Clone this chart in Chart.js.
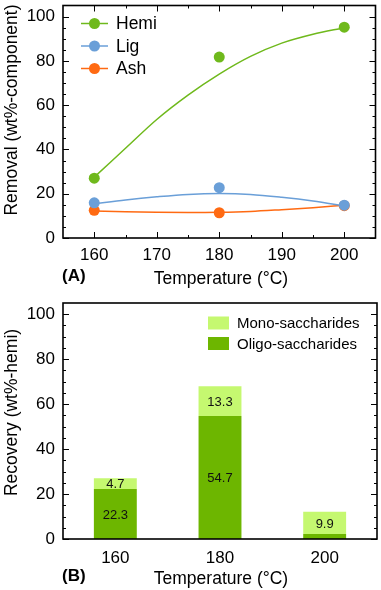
<!DOCTYPE html>
<html>
<head>
<meta charset="utf-8">
<script src="https://cdn.jsdelivr.net/npm/chart.js@4.4.1/dist/chart.umd.min.js"></script>
<style>
  html, body { margin: 0; padding: 0; background: #fff; }
  .panel { position: absolute; left: 0; width: 381px; }
  #panel-a { top: 0; height: 290px; }
  #panel-b { top: 290px; height: 300px; }
</style>
</head>
<body>
<div class="panel" id="panel-a"><canvas id="chart-a"></canvas></div>
<div class="panel" id="panel-b"><canvas id="chart-b"></canvas></div>
<script>
const FONT = '"Liberation Sans", Arial, sans-serif';
const GREEN = '#6fb91c';
const BLUE = '#6a9fd8';
const ORANGE = '#ff6a12';
const LIGHT_GREEN = '#c5f870';
const DARK_GREEN = '#6db600';

// (A) removal of each component
const temps = [160, 180, 200];
const hemiRemoval = [27.0, 81.7, 95.2];
const ligRemoval = [15.9, 22.7, 14.8];
const ashRemoval = [12.5, 11.4, 14.6];
// trend lines, every 5 °C
const fitTemps = [160, 165, 170, 175, 180, 185, 190, 195, 200];
const hemiFit = [27.5, 40.5, 53.5, 64.5, 74.0, 82.0, 88.0, 92.0, 95.0];
const ligFit = [15.5, 17.2, 18.6, 19.7, 20.1, 19.7, 18.4, 16.7, 14.5];
const ashFit = [12.2, 11.8, 11.6, 11.5, 11.6, 12.0, 12.8, 13.7, 14.8];
const xTicksA = [160, 170, 180, 190, 200];
const xMinorA = [165, 175, 185, 195];
const yTicks = [0, 20, 40, 60, 80, 100];
const yMinor = [5, 10, 15, 25, 30, 35, 45, 50, 55, 65, 70, 75, 85, 90, 95];

// (B) recovery of hemicellulose sugars
const categories = ['160', '180', '200'];
const oligo = [22.3, 54.7, 2.2];
const mono = [4.7, 13.3, 9.9];
const oligoLabels = ['22.3', '54.7', ''];
const monoLabels = ['4.7', '13.3', '9.9'];

const pts = (xs, ys) => xs.map((x, i) => ({ x, y: ys[i] }));

function tickFont(size) {
  return { family: FONT, size };
}

// frame + inward tick marks on every side
function frameTicks(id, cfg) {
  return {
    id,
    afterDatasetsDraw(chart) {
      const { ctx, chartArea: a, scales } = chart;
      ctx.save();
      ctx.strokeStyle = '#000';
      ctx.lineWidth = 1;
      ctx.beginPath();
      const yTick = (v, len) => {
        const y = Math.round(scales.y.getPixelForValue(v)) + 0.5;
        ctx.moveTo(a.left, y); ctx.lineTo(a.left + len, y);
        ctx.moveTo(a.right, y); ctx.lineTo(a.right - len, y);
      };
      yTicks.forEach(v => yTick(v, 6));
      yMinor.forEach(v => yTick(v, 3));
      if (cfg.xMajor) {
        const xTick = (v, len) => {
          const x = Math.round(scales.x.getPixelForValue(v)) + 0.5;
          ctx.moveTo(x, a.bottom); ctx.lineTo(x, a.bottom - len);
          ctx.moveTo(x, a.top); ctx.lineTo(x, a.top + len);
        };
        cfg.xMajor.forEach(v => xTick(v, 6));
        cfg.xMinor.forEach(v => xTick(v, 3));
      }
      ctx.stroke();
      ctx.lineWidth = 1.6;
      ctx.strokeRect(a.left, a.top, a.right - a.left, a.bottom - a.top);
      ctx.restore();
    }
  };
}

function titles(id, cfg) {
  return {
    id,
    afterDraw(chart) {
      const { ctx } = chart;
      ctx.save();
      ctx.fillStyle = '#000';
      ctx.font = `17.5px ${FONT}`;
      ctx.textAlign = 'center';
      ctx.textBaseline = 'middle';
      ctx.translate(12, cfg.yTitleY);
      ctx.rotate(-Math.PI / 2);
      ctx.fillText(cfg.yTitle, 0, 0);
      ctx.restore();

      ctx.save();
      ctx.fillStyle = '#000';
      ctx.font = `17.5px ${FONT}`;
      ctx.textAlign = 'center';
      ctx.textBaseline = 'alphabetic';
      ctx.fillText('Temperature (°C)', 221, cfg.xTitleBase);
      ctx.font = `bold 17px ${FONT}`;
      ctx.textAlign = 'left';
      ctx.fillText(cfg.panel, 62, cfg.panelBase);
      ctx.restore();
    }
  };
}

const lineLegend = {
  id: 'lineLegend',
  afterDraw(chart) {
    const { ctx } = chart;
    ctx.save();
    ctx.font = `17.5px ${FONT}`;
    ctx.textBaseline = 'middle';
    chart.data.datasets.filter(d => d.showLine === false).forEach((d, i) => {
      const y = 23.5 + i * 22.5;
      ctx.strokeStyle = d.backgroundColor;
      ctx.lineWidth = 1.5;
      ctx.beginPath();
      ctx.moveTo(81, y); ctx.lineTo(108, y);
      ctx.stroke();
      ctx.fillStyle = d.backgroundColor;
      ctx.beginPath();
      ctx.arc(94.5, y, 5.5, 0, Math.PI * 2);
      ctx.fill();
      ctx.fillStyle = '#000';
      ctx.fillText(d.label, 116, y + 1);
    });
    ctx.restore();
  }
};

const barLegend = {
  id: 'barLegend',
  afterDraw(chart) {
    const { ctx } = chart;
    ctx.save();
    ctx.font = `15px ${FONT}`;
    ctx.textBaseline = 'middle';
    // mono on top, oligo below, as in the figure
    [...chart.data.datasets].reverse().forEach((d, i) => {
      const y = 33 + i * 20.5;
      ctx.fillStyle = d.backgroundColor;
      ctx.fillRect(208, y - 6.5, 21, 13);
      ctx.fillStyle = '#000';
      ctx.fillText(d.label, 237, y + 1);
    });
    ctx.restore();
  }
};

const barValues = {
  id: 'barValues',
  afterDatasetsDraw(chart) {
    const { ctx } = chart;
    ctx.save();
    ctx.font = `13px ${FONT}`;
    ctx.fillStyle = '#111';
    ctx.textAlign = 'center';
    ctx.textBaseline = 'middle';
    chart.data.datasets.forEach((d, di) => {
      chart.getDatasetMeta(di).data.forEach((el, i) => {
        const txt = d.valueLabels[i];
        if (txt) ctx.fillText(txt, el.x, (el.y + el.base) / 2 + 1);
      });
    });
    ctx.restore();
  }
};

const axisCommon = {
  grid: { display: false, drawTicks: false },
  border: { display: false },
};

// pin the axis boxes so the plot area lands where the figure has it
const fixX = h => s => { s.height = h; s.paddingLeft = 0; s.paddingRight = 0; };
const fixY = w => s => { s.width = w; s.paddingTop = 0; s.paddingBottom = 0; };

new Chart(document.getElementById('chart-a'), {
  type: 'line',
  data: {
    datasets: [
      { label: 'Hemi', data: pts(temps, hemiRemoval), showLine: false, pointRadius: 5.5, pointBackgroundColor: GREEN, backgroundColor: GREEN, pointBorderWidth: 0, order: 0 },
      { label: 'Lig', data: pts(temps, ligRemoval), showLine: false, pointRadius: 5.5, pointBackgroundColor: BLUE, backgroundColor: BLUE, pointBorderWidth: 0, order: 0 },
      { label: 'Ash', data: pts(temps, ashRemoval), showLine: false, pointRadius: 5.5, pointBackgroundColor: ORANGE, backgroundColor: ORANGE, pointBorderWidth: 0, order: 0 },
      { label: 'Hemi fit', data: pts(fitTemps, hemiFit), pointRadius: 0, borderColor: GREEN, borderWidth: 1.5, cubicInterpolationMode: 'monotone', order: 1 },
      { label: 'Lig fit', data: pts(fitTemps, ligFit), pointRadius: 0, borderColor: BLUE, borderWidth: 1.5, cubicInterpolationMode: 'monotone', order: 1 },
      { label: 'Ash fit', data: pts(fitTemps, ashFit), pointRadius: 0, borderColor: ORANGE, borderWidth: 1.5, cubicInterpolationMode: 'monotone', order: 1 },
    ]
  },
  options: {
    responsive: true, maintainAspectRatio: false, animation: false,
    layout: { padding: { top: 3, right: 4, left: 0, bottom: 0 } },
    plugins: { legend: { display: false }, tooltip: { enabled: false } },
    scales: {
      x: {
        ...axisCommon, type: 'linear', min: 155, max: 205,
        afterBuildTicks: s => { s.ticks = xTicksA.map(v => ({ value: v })); },
        afterFit: fixX(52),
        ticks: { padding: 7, color: '#000', font: tickFont(17) }
      },
      y: {
        ...axisCommon, min: 0, max: 105,
        afterBuildTicks: s => { s.ticks = yTicks.map(v => ({ value: v })); },
        afterFit: fixY(63),
        ticks: { padding: 8, color: '#000', font: tickFont(17) }
      }
    }
  },
  plugins: [
    frameTicks('frameA', { xMajor: xTicksA, xMinor: xMinorA }),
    titles('titlesA', { yTitle: 'Removal (wt%-component)', yTitleY: 110, xTitleBase: 284, panel: '(A)', panelBase: 281 }),
    lineLegend
  ]
});

new Chart(document.getElementById('chart-b'), {
  type: 'bar',
  data: {
    labels: categories,
    datasets: [
      { label: 'Oligo-saccharides', data: oligo, valueLabels: oligoLabels, backgroundColor: DARK_GREEN, barPercentage: 0.41, categoryPercentage: 1 },
      { label: 'Mono-saccharides', data: mono, valueLabels: monoLabels, backgroundColor: LIGHT_GREEN, barPercentage: 0.41, categoryPercentage: 1 },
    ]
  },
  options: {
    responsive: true, maintainAspectRatio: false, animation: false,
    layout: { padding: { top: 13, right: 4, left: 0, bottom: 0 } },
    plugins: { legend: { display: false }, tooltip: { enabled: false } },
    scales: {
      x: {
        ...axisCommon, stacked: true,
        afterFit: fixX(51),
        ticks: { padding: 9, color: '#000', font: tickFont(17) }
      },
      y: {
        ...axisCommon, stacked: true, min: 0, max: 105,
        afterBuildTicks: s => { s.ticks = yTicks.map(v => ({ value: v })); },
        afterFit: fixY(63),
        ticks: { padding: 8, color: '#000', font: tickFont(17) }
      }
    }
  },
  plugins: [
    frameTicks('frameB', {}),
    titles('titlesB', { yTitle: 'Recovery (wt%-hemi)', yTitleY: 122.5, xTitleBase: 294, panel: '(B)', panelBase: 290.5 }),
    barLegend,
    barValues
  ]
});
</script>
</body>
</html>
